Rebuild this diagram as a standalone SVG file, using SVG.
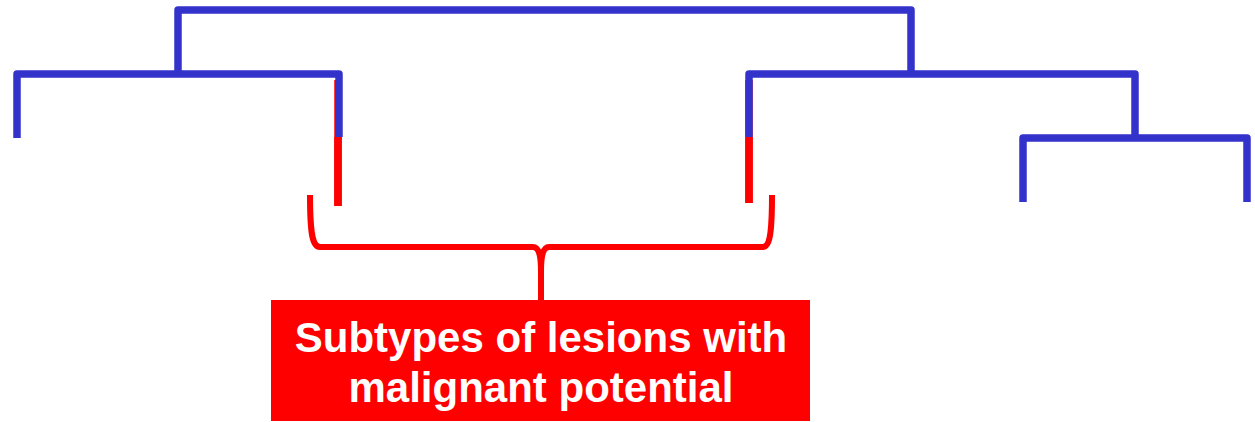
<svg xmlns="http://www.w3.org/2000/svg" width="1255" height="422" viewBox="0 0 1255 422">
<style>
.tree{fill:none;stroke:#3333CC;stroke-width:7.5;stroke-linejoin:round;stroke-linecap:butt}
.red{fill:none;stroke:#FF0000;stroke-width:7.5;stroke-linecap:butt}
.brace{fill:none;stroke:#FF0000;stroke-width:6;stroke-linejoin:round;stroke-linecap:butt}
.lbl{font-family:"Liberation Sans",Arial,sans-serif;font-weight:bold;font-size:42px;fill:#FFFFFF;text-anchor:middle}
</style>
<g id="connectors">
  <path class="red" d="M338,80 L338,206"/>
  <path class="red" d="M749,80 L749,203"/>
  <path class="tree" d="M178,74 L178,10 L911,10 L911,74"/>
  <path class="tree" d="M17,138 L17,74 L339,74 L339,137"/>
  <path class="tree" d="M749,137 L749,74 L1135,74 L1135,138"/>
  <path class="tree" d="M1023,202 L1023,138 L1247,138 L1247,202"/>
  <path class="red" d="M338,137 L338,206"/>
  <path class="red" d="M749,137 L749,203"/>
  <path class="brace" d="M310,195 C310,232 312,247 320,247 L533,247 C539,247 541,256 541,272 L541,300 M541,272 C541,256 543,247 549,247 L763,247 C770,247 772,232 772,195"/>
</g>
<g id="label">
  <rect x="271" y="300" width="539" height="121" fill="#FF0000"/>
  <text class="lbl" x="541" y="352">Subtypes of lesions with</text>
  <text class="lbl" x="541" y="402">malignant potential</text>
</g>
</svg>
